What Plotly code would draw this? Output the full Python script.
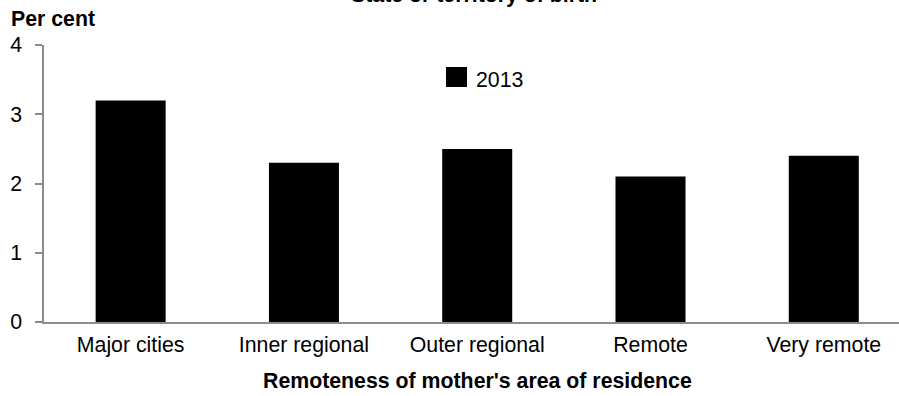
import plotly.graph_objects as go

categories = ["Major cities", "Inner regional", "Outer regional", "Remote", "Very remote"]
values_2013 = [3.2, 2.3, 2.5, 2.1, 2.4]
series_name = "2013"
y_ticks = [0, 1, 2, 3, 4]

W, H = 899, 396
L, T, B = 44, 45, 74
PW = W - L
PH = H - T - B
FONT = "Liberation Sans, Arial, sans-serif"
FS = 21.3

def px_x(px):
    return (px - L) / PW

def px_y(py):
    return (H - B - py) / PH

fig = go.Figure()
fig.add_trace(go.Bar(x=categories, y=values_2013, name=series_name,
                     marker=dict(color="#000000", line=dict(width=0)),
                     showlegend=False))

fig.update_layout(
    width=W, height=H,
    margin=dict(l=L, r=0, t=T, b=B, pad=0, autoexpand=False),
    paper_bgcolor="white", plot_bgcolor="white",
    bargap=0.596,
    font=dict(family=FONT, size=FS, color="#000000"),
    xaxis=dict(range=[-0.5, 4.434], showgrid=False, zeroline=False, automargin=False,
               showline=True, linecolor="#8c8c8c", linewidth=1.5,
               ticks="", tickfont=dict(size=FS, color="#000000"),
               ticklabelstandoff=3),
    yaxis=dict(range=[0, 4], tickvals=y_ticks, showgrid=False, zeroline=False, automargin=False,
               showline=True, linecolor="#8c8c8c", linewidth=1.5,
               ticks="outside", ticklen=7, tickwidth=1.5, tickcolor="#8c8c8c",
               tickfont=dict(size=FS, color="#000000"),
               ticklabelstandoff=9),
    shapes=[dict(type="rect", xref="paper", yref="paper",
                 x0=px_x(446), x1=px_x(467), y0=px_y(87), y1=px_y(67),
                 fillcolor="#000000", line=dict(width=0))],
    annotations=[
        dict(text=series_name, xref="paper", yref="paper", x=px_x(474), y=px_y(80),
             xanchor="left", yanchor="middle", showarrow=False,
             font=dict(size=FS, color="#000000")),
        dict(text="<b>Per cent</b>", xref="paper", yref="paper", x=px_x(9), y=px_y(19),
             xanchor="left", yanchor="middle", showarrow=False,
             font=dict(size=FS, color="#000000")),
        dict(text="<b>State or territory of birth</b>", xref="paper", yref="paper",
             x=px_x(473.5), y=px_y(-5), xanchor="center", yanchor="middle",
             showarrow=False, font=dict(size=FS, color="#000000")),
        dict(text="<b>Remoteness of mother's area of residence</b>", xref="paper", yref="paper",
             x=px_x(477), y=px_y(381), xanchor="center", yanchor="middle",
             showarrow=False, font=dict(size=FS, color="#000000")),
    ],
)

fig.write_html("out.html", config={"displayModeBar": False},
               post_script="document.body.style.margin='0px';")
